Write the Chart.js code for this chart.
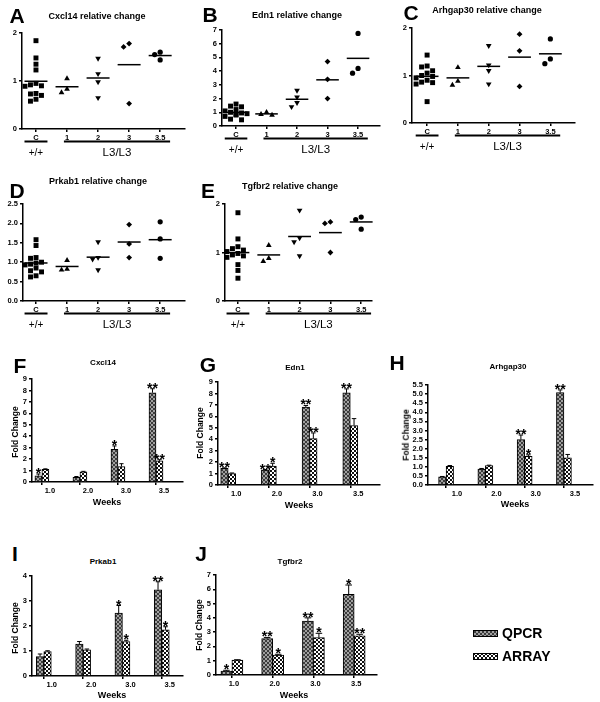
<!DOCTYPE html>
<html lang="en">
<head>
<meta charset="UTF-8">
<title>Gene expression panels A-J</title>
<script src="https://cdn.jsdelivr.net/npm/chart.js@4.4.0/dist/chart.umd.min.js"></script>
<style>
    body { margin: 0; background: #fff; font-family: "Liberation Sans", Arial, sans-serif; }
    #page { position: relative; width: 600px; height: 702px; overflow: hidden; }
    #page canvas { position: absolute; }
    .lbl { position: absolute; transform: translate(-50%, -50%); white-space: nowrap; color: #000; font-weight: bold; line-height: 1; }
    .letter { font-size: 21px; }
    .title { font-size: 9px; }
    .btitle { font-size: 8px; }
    .ytitle { font-size: 8.5px; transform: translate(-50%, -50%) rotate(-90deg); }
    .weeks { font-size: 9px; }
    .legend-text { font-size: 14px; transform: translate(0, -50%); }
</style>
</head>
<body>
<div id="page"></div>
<script>
// ---- data ----
const dotGroups = ['C', '1', '2', '3', '3.5'];
const genotypeLabels = ['+/+', 'L3/L3'];
const weekLabels = ['1.0', '2.0', '3.0', '3.5'];

// dot plots: one array per group (C, 1, 2, 3, 3.5 weeks)
const cxcl14Dots = [
    [1.84, 1.48, 1.35, 1.23, 0.95, 0.92, 0.90, 0.89, 0.74, 0.73, 0.70, 0.62, 0.58],
    [1.05, 0.83, 0.76], [1.47, 1.15, 0.98, 0.65], [1.78, 1.71, 0.53], [1.60, 1.55, 1.44]
];
const edn1Dots = [
    [1.6, 1.45, 1.4, 1.2, 1.1, 1.0, 0.95, 0.9, 0.85, 0.8, 0.7, 0.5, 0.45],
    [1.0, 0.85, 0.8], [2.6, 2.1, 1.7, 1.4], [4.7, 3.4, 2.0], [6.75, 4.2, 3.85]
];
const arhgap30Dots = [
    [1.43, 1.2, 1.18, 1.1, 1.05, 1.0, 0.98, 0.95, 0.9, 0.86, 0.85, 0.82, 0.45],
    [1.17, 0.88, 0.8], [1.63, 1.22, 1.1, 0.82], [1.87, 1.52, 0.77], [1.77, 1.35, 1.25]
];
const prkab1Dots = [
    [1.58, 1.43, 1.12, 1.1, 1.0, 0.98, 0.95, 0.93, 0.85, 0.78, 0.75, 0.65, 0.62],
    [1.05, 0.82, 0.8], [1.52, 1.12, 1.08, 0.8], [1.97, 1.47, 1.12], [2.04, 1.6, 1.1]
];
const tgfbr2Dots = [
    [1.82, 1.28, 1.12, 1.08, 1.05, 1.02, 0.98, 0.95, 0.93, 0.9, 0.75, 0.63, 0.47],
    [1.15, 0.88, 0.82], [1.87, 1.3, 1.22, 0.93], [1.63, 1.6, 1.0], [1.73, 1.68, 1.48]
];

// bar charts: fold change, error (up), significance marks
const cxcl14Qpcr = [0.55, 0.4, 2.85, 7.8];
const cxcl14QpcrErr = [0.15, 0.08, 0.3, 0.35];
const cxcl14QpcrSig = ['*', '', '*', '**'];
const cxcl14Array = [1.1, 0.88, 1.35, 1.85];
const cxcl14ArrayErr = [0.05, 0.05, 0.25, 0.1];
const cxcl14ArraySig = ['', '', '', '**'];

const edn1Qpcr = [1.45, 1.3, 6.8, 8.05];
const edn1QpcrErr = [0.05, 0.05, 0.15, 0.35];
const edn1QpcrSig = ['**', '**', '**', '**'];
const edn1Array = [1.0, 1.65, 4.05, 5.2];
const edn1ArrayErr = [0.05, 0.25, 0.5, 0.6];
const edn1ArraySig = ['', '*', '**', ''];

const arhgap30Qpcr = [0.45, 0.88, 2.5, 5.08];
const arhgap30QpcrErr = [0.02, 0.03, 0.25, 0.15];
const arhgap30QpcrSig = ['', '', '**', '**'];
const arhgap30Array = [1.02, 1.07, 1.58, 1.5];
const arhgap30ArrayErr = [0.05, 0.02, 0.08, 0.18];
const arhgap30ArraySig = ['', '', '*', ''];

const prkab1Qpcr = [0.78, 1.28, 2.52, 3.45];
const prkab1QpcrErr = [0.1, 0.1, 0.3, 0.32];
const prkab1QpcrSig = ['', '', '*', '**'];
const prkab1Array = [0.98, 1.05, 1.38, 1.85];
const prkab1ArrayErr = [0.03, 0.03, 0.05, 0.12];
const prkab1ArraySig = ['', '', '*', '*'];

const tgfbr2Qpcr = [0.28, 2.55, 3.78, 5.65];
const tgfbr2QpcrErr = [0.05, 0.08, 0.22, 0.65];
const tgfbr2QpcrSig = ['*', '**', '**', '*'];
const tgfbr2Array = [1.05, 1.4, 2.62, 2.75];
const tgfbr2ArrayErr = [0.02, 0.05, 0.3, 0.1];
const tgfbr2ArraySig = ['', '*', '*', '**'];

// ---- layout ----
const INK = '#000';
const FAMILY = '"Liberation Sans", Arial, sans-serif';
const tickFont = { family: FAMILY, size: 7.5, weight: 'bold' };
const Y_W = 36, PAD_T = 8, PAD_R = 10, X_H = 16;

const page = document.getElementById('page');

function addCanvas(p, extraBottom) {
    const c = document.createElement('canvas');
    const w = p.r - p.l + Y_W + PAD_R;
    const h = p.b - p.t + PAD_T + X_H + extraBottom;
    c.width = w; c.height = h;
    c.style.left = (p.l - Y_W) + 'px';
    c.style.top = (p.t - PAD_T) + 'px';
    c.style.width = w + 'px'; c.style.height = h + 'px';
    page.appendChild(c);
    return c;
}

function yAxis(p) {
    return {
        min: 0, max: p.yMax,
        afterFit: s => { s.width = Y_W; },
        ticks: { stepSize: p.step, font: tickFont, color: INK, padding: 2, autoSkip: false,
                 callback: v => p.dec ? v.toFixed(1) : String(v) },
        grid: { drawOnChartArea: false, tickLength: 3, color: INK, lineWidth: 1.5 },
        border: { color: INK, width: 1.5 }
    };
}

function xAxis(p, labels, labelOffset) {
    return {
        type: 'linear', min: p.xMin, max: p.xMax, offset: false,
        afterBuildTicks: s => { s.ticks = labels.map((_, i) => ({ value: i })); },
        afterFit: s => { s.height = X_H; },
        ticks: { font: tickFont, color: INK, padding: 1, maxRotation: 0, autoSkip: false,
                 labelOffset: labelOffset, callback: v => labels[v] },
        grid: { drawOnChartArea: false, offset: false, tickLength: 3, color: INK, lineWidth: 1.5 },
        border: { color: INK, width: 1.5 }
    };
}

// ---- dot plot panels (A-E) ----
const dotStyles = [
    { pointStyle: 'rect', radius: 3.5, rotation: 0 },
    { pointStyle: 'triangle', radius: 3.3, rotation: 0 },
    { pointStyle: 'triangle', radius: 3.3, rotation: 180 },
    { pointStyle: 'rectRot', radius: 2.9, rotation: 0 },
    { pointStyle: 'circle', radius: 2.6, rotation: 0 }
];
const genotypeSpans = [[-0.37, 0.37], [0.9, 4.32]];

// spread overlapping points sideways (simple beeswarm, max two steps each side)
function swarm(vals, unitY, unitX) {
    const placed = [];
    return vals.map(v => {
        let best = 0, bestHits = Infinity;
        for (let k = 0; k < 5; k++) {
            const off = (k % 2 ? -1 : 1) * Math.ceil(k / 2) * unitX;
            const hits = placed.filter(q => Math.abs(q.y - v) < unitY && Math.abs(q.x - off) < unitX * 0.9).length;
            if (hits < bestHits) { best = off; bestHits = hits; }
            if (hits === 0) break;
        }
        placed.push({ x: best, y: v });
        return best;
    });
}

const meanLines = {
    id: 'meanLines',
    afterDatasetsDraw(chart) {
        const { ctx, scales: { x, y } } = chart;
        ctx.save();
        ctx.strokeStyle = INK; ctx.lineWidth = 1.5;
        chart.data.datasets.forEach((ds, i) => {
            const m = ds.data.reduce((a, d) => a + d.y, 0) / ds.data.length;
            const py = y.getPixelForValue(m);
            ctx.beginPath();
            ctx.moveTo(x.getPixelForValue(i - 0.37), py);
            ctx.lineTo(x.getPixelForValue(i + 0.37), py);
            ctx.stroke();
        });
        ctx.restore();
    }
};

const genotypeBars = {
    id: 'genotypeBars',
    afterDraw(chart) {
        const { ctx, scales: { x, y } } = chart;
        const base = y.getPixelForValue(0);
        ctx.save();
        ctx.strokeStyle = INK; ctx.fillStyle = INK; ctx.lineWidth = 2;
        ctx.textAlign = 'center'; ctx.textBaseline = 'middle';
        genotypeSpans.forEach(([a, b], k) => {
            const x0 = x.getPixelForValue(a), x1 = x.getPixelForValue(b);
            ctx.beginPath();
            ctx.moveTo(x0, base + 12.5); ctx.lineTo(x1, base + 12.5);
            ctx.stroke();
            ctx.font = (k ? 11.5 : 10) + 'px ' + FAMILY;
            ctx.fillText(genotypeLabels[k], (x0 + x1) / 2, base + 24);
        });
        ctx.restore();
    }
};

function dotPanel(p) {
    const canvas = addCanvas(p, 22);
    const unitY = p.yMax * 5 / (p.b - p.t);
    const unitX = 5.5 * (p.xMax - p.xMin) / (p.r - p.l);
    new Chart(canvas, {
        type: 'scatter',
        data: {
            datasets: p.data.map((vals, i) => {
                const offs = swarm(vals, unitY, unitX);
                return {
                    data: vals.map((v, k) => ({ x: i + offs[k], y: v })),
                    pointStyle: dotStyles[i].pointStyle,
                    pointRadius: dotStyles[i].radius,
                    rotation: dotStyles[i].rotation,
                    backgroundColor: INK, borderColor: INK, borderWidth: 0
                };
            })
        },
        options: {
            responsive: false, animation: false, events: [],
            layout: { padding: { left: 0, top: PAD_T, right: PAD_R, bottom: 22 } },
            plugins: { legend: { display: false }, tooltip: { enabled: false } },
            scales: { x: xAxis(p, dotGroups, 0), y: yAxis(p) }
        },
        plugins: [meanLines, genotypeBars]
    });
}

// ---- bar panels (F-J) ----
function makePattern(kind) {
    const c = document.createElement('canvas');
    c.width = 4; c.height = 4;
    const g = c.getContext('2d');
    if (kind === 'qpcr') {
        g.fillStyle = '#a0a0a0'; g.fillRect(0, 0, 4, 4);
        g.fillStyle = '#3c3c3c';
        for (let i = 0; i < 4; i++) { g.fillRect(i, i, 1, 1); g.fillRect(3 - i, i, 1, 1); }
    } else {
        g.fillStyle = '#fff'; g.fillRect(0, 0, 4, 4);
        g.fillStyle = '#111';
        g.fillRect(0, 0, 2, 2); g.fillRect(2, 2, 2, 2);
    }
    return g.createPattern(c, 'repeat');
}
const qpcrFill = makePattern('qpcr');
const arrayFill = makePattern('array');

const errorMarks = {
    id: 'errorMarks',
    afterDatasetsDraw(chart) {
        const { ctx, scales: { y } } = chart;
        ctx.save();
        ctx.strokeStyle = INK; ctx.fillStyle = INK; ctx.lineWidth = 1;
        ctx.textAlign = 'center'; ctx.textBaseline = 'alphabetic';
        ctx.font = 'bold 14px ' + FAMILY;
        chart.data.datasets.forEach((ds, di) => {
            chart.getDatasetMeta(di).data.forEach((bar, j) => {
                const v = ds.data[j].y, e = ds.errors[j];
                const top = y.getPixelForValue(v + e);
                if (e > 0) {
                    const cap = bar.width * 0.3;
                    ctx.beginPath();
                    ctx.moveTo(bar.x, bar.y); ctx.lineTo(bar.x, top);
                    ctx.moveTo(bar.x - cap, top); ctx.lineTo(bar.x + cap, top);
                    ctx.stroke();
                }
                if (ds.marks[j]) ctx.fillText(ds.marks[j], bar.x, top + 4);
            });
        });
        ctx.restore();
    }
};

function barPanel(p) {
    const canvas = addCanvas(p, 2);
    const ds = (label, vals, errs, marks, fill) => ({
        label, errors: errs, marks,
        data: vals.map((v, i) => ({ x: i, y: v })),
        backgroundColor: fill, borderColor: INK, borderWidth: 1,
        barThickness: p.bar
    });
    new Chart(canvas, {
        type: 'bar',
        data: {
            datasets: [
                ds('QPCR', p.qpcr, p.qpcrErr, p.qpcrSig, qpcrFill),
                ds('ARRAY', p.array, p.arrayErr, p.arraySig, arrayFill)
            ]
        },
        options: {
            responsive: false, animation: false, events: [],
            layout: { padding: { left: 0, top: PAD_T, right: PAD_R, bottom: 2 } },
            plugins: { legend: { display: false }, tooltip: { enabled: false } },
            scales: { x: xAxis(p, weekLabels, p.labelOffset), y: yAxis(p) }
        },
        plugins: [errorMarks]
    });
}

const dotPanels = [
    { data: cxcl14Dots, l: 22, t: 33, r: 185, b: 129, xMin: -0.45, xMax: 4.8, yMax: 2, step: 1 },
    { data: edn1Dots, l: 222, t: 30, r: 380, b: 126, xMin: -0.46, xMax: 4.72, yMax: 7, step: 1 },
    { data: arhgap30Dots, l: 412, t: 28, r: 575, b: 123, xMin: -0.49, xMax: 4.8, yMax: 2, step: 1 },
    { data: prkab1Dots, l: 23, t: 204, r: 185, b: 301, xMin: -0.42, xMax: 4.8, yMax: 2.5, step: 0.5, dec: true },
    { data: tgfbr2Dots, l: 225, t: 204, r: 372, b: 301, xMin: -0.42, xMax: 4.35, yMax: 2, step: 1 }
];
const barPanels = [
    { qpcr: cxcl14Qpcr, qpcrErr: cxcl14QpcrErr, qpcrSig: cxcl14QpcrSig,
      array: cxcl14Array, arrayErr: cxcl14ArrayErr, arraySig: cxcl14ArraySig,
      l: 32, t: 379, r: 183, b: 482, xMin: -0.26, xMax: 3.71, yMax: 9, step: 1, bar: 7, labelOffset: 8 },
    { qpcr: edn1Qpcr, qpcrErr: edn1QpcrErr, qpcrSig: edn1QpcrSig,
      array: edn1Array, arrayErr: edn1ArrayErr, arraySig: edn1ArraySig,
      l: 218, t: 382, r: 380, b: 485, xMin: -0.25, xMax: 3.73, yMax: 9, step: 1, bar: 7.5, labelOffset: 8 },
    { qpcr: arhgap30Qpcr, qpcrErr: arhgap30QpcrErr, qpcrSig: arhgap30QpcrSig,
      array: arhgap30Array, arrayErr: arhgap30ArrayErr, arraySig: arhgap30ArraySig,
      l: 428, t: 385, r: 593, b: 485, xMin: -0.46, xMax: 3.74, yMax: 5.5, step: 0.5, dec: true, bar: 7.5, labelOffset: 11 },
    { qpcr: prkab1Qpcr, qpcrErr: prkab1QpcrErr, qpcrSig: prkab1QpcrSig,
      array: prkab1Array, arrayErr: prkab1ArrayErr, arraySig: prkab1ArraySig,
      l: 32, t: 576, r: 183, b: 676, xMin: -0.3, xMax: 3.54, yMax: 4, step: 1, bar: 7.5, labelOffset: 8 },
    { qpcr: tgfbr2Qpcr, qpcrErr: tgfbr2QpcrErr, qpcrSig: tgfbr2QpcrSig,
      array: tgfbr2Array, arrayErr: tgfbr2ArrayErr, arraySig: tgfbr2ArraySig,
      l: 216, t: 575, r: 377, b: 675, xMin: -0.39, xMax: 3.56, yMax: 7, step: 1, bar: 11, labelOffset: 2 }
];

dotPanels.forEach(dotPanel);
barPanels.forEach(barPanel);

// ---- text ----
const texts = [
    ['A', 17, 15, 'letter'], ['B', 210, 14, 'letter'], ['C', 411, 12, 'letter'],
    ['D', 17, 190, 'letter'], ['E', 208, 190, 'letter'], ['F', 20, 365, 'letter'],
    ['G', 208, 364, 'letter'], ['H', 397, 362, 'letter'], ['I', 15, 553, 'letter'], ['J', 201, 553, 'letter'],
    ['Cxcl14 relative change', 97, 16, 'title'], ['Edn1 relative change', 297, 15, 'title'],
    ['Arhgap30 relative change', 487, 10, 'title'], ['Prkab1 relative change', 98, 181, 'title'],
    ['Tgfbr2 relative change', 290, 186, 'title'],
    ['Cxcl14', 103, 363, 'btitle'], ['Edn1', 295, 368, 'btitle'], ['Arhgap30', 508, 367, 'btitle'],
    ['Prkab1', 103, 562, 'btitle'], ['Tgfbr2', 290, 562, 'btitle'],
    ['Fold Change', 15, 432, 'ytitle'], ['Fold Change', 200, 433, 'ytitle'], ['Fold Change', 406, 435, 'ytitle'],
    ['Fold Change', 15, 628, 'ytitle'], ['Fold Change', 199, 625, 'ytitle'],
    ['Weeks', 107, 502, 'weeks'], ['Weeks', 299, 505, 'weeks'], ['Weeks', 515, 504, 'weeks'],
    ['Weeks', 112, 695, 'weeks'], ['Weeks', 294, 695, 'weeks']
];
texts.forEach(([txt, x, y, cls]) => {
    const d = document.createElement('div');
    d.className = 'lbl ' + cls;
    d.textContent = txt;
    d.style.left = x + 'px'; d.style.top = y + 'px';
    page.appendChild(d);
});

// ---- legend ----
[['QPCR', qpcrFill, 633], ['ARRAY', arrayFill, 656]].forEach(([name, fill, cy]) => {
    const sw = document.createElement('canvas');
    sw.width = 25; sw.height = 7;
    sw.style.left = '473px'; sw.style.top = (cy - 3) + 'px';
    const g = sw.getContext('2d');
    g.fillStyle = fill; g.fillRect(0, 0, 25, 7);
    g.strokeStyle = INK; g.lineWidth = 1; g.strokeRect(0.5, 0.5, 24, 6);
    page.appendChild(sw);
    const t = document.createElement('div');
    t.className = 'lbl legend-text';
    t.textContent = name;
    t.style.left = '502px'; t.style.top = cy + 'px';
    page.appendChild(t);
});
</script>
</body>
</html>
